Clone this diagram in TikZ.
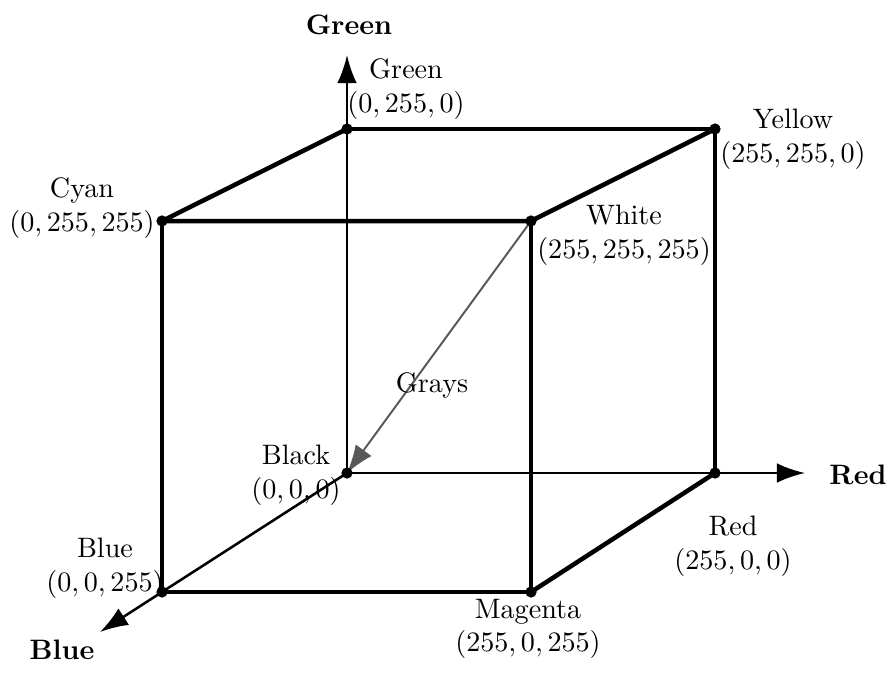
\documentclass[tikz,border=0pt]{standalone}
\usetikzlibrary{arrows.meta}

\begin{document}
\begin{tikzpicture}[x=0.0125cm, y=-0.0125cm,
        edge/.style={line width=1.6pt},
        axis/.style={line width=0.9pt},
        axisarrow/.style={line width=0.9pt, -{Latex[length=10pt, width=7pt]}},
        vertex/.style={circle, fill, inner sep=0pt, minimum size=4pt},
        corner/.style={align=center, inner sep=1pt},
        axislabel/.style={font=\bfseries}]
        \useasboundingbox (0,0) rectangle (892,674);

        % vrcholy krychle
        \coordinate (K) at (347,473);
        \coordinate (G) at (347,129);
        \coordinate (Y) at (715,129);
        \coordinate (R) at (715,473);
        \coordinate (B) at (162,592);
        \coordinate (C) at (162,221);
        \coordinate (W) at (531,221);
        \coordinate (M) at (531,592);

        % osy
        \coordinate (GA) at (347,55);
        \coordinate (RA) at (805,473);
        \coordinate (BA) at (100,632);
        \draw[axis] (K) -- (G);
        \draw[axis] (K) -- (R);
        \draw[axis] (K) -- (B);
        \draw[axisarrow] (G) -- (GA);
        \draw[axisarrow] (R) -- (RA);
        \draw[axisarrow] (B) -- (BA);
        \node[axislabel] (GAL) at (349,25) {Green};
        \node[axislabel] (RAL) at (858,475) {Red};
        \node[axislabel] (BAL) at (62,650) {Blue};

        % hrany
        \draw[edge, line join=round] (G) -- (Y) -- (R);
        \draw[edge, line join=round] (G) -- (C) -- (W) -- (Y);
        \draw[edge, line join=round] (C) -- (B) -- (M) -- (W);
        \draw[edge] (M) -- (R);

        % diagonala sedi
        \draw[gray!70!black, line width=0.7pt, -{Latex[length=10pt, width=7pt]}] (W) -- (K);
        \node (GL) at (432,385) {Grays};

        % body
        \foreach \v in {K,G,Y,R,B,C,W,M}
            \node[vertex] at (\v) {};

        % popisky
        \node[corner] (GN) at (406,89) {Green\\$(0,255,0)$};
        \node[corner] (YN) at (793,139) {Yellow\\$(255,255,0)$};
        \node[corner] (CN) at (82,208) {Cyan\\$(0,255,255)$};
        \node[corner] (WN) at (624,235) {White\\$(255,255,255)$};
        \node[corner] (KN) at (296,475) {Black\\$(0,0,0)$};
        \node[corner] (BN) at (105,568) {Blue\\$(0,0,255)$};
        \node[corner] (RN) at (733,546) {Red\\$(255,0,0)$};
        \node[corner] (MN) at (528,629) {Magenta\\$(255,0,255)$};
    \end{tikzpicture}
\end{document}
